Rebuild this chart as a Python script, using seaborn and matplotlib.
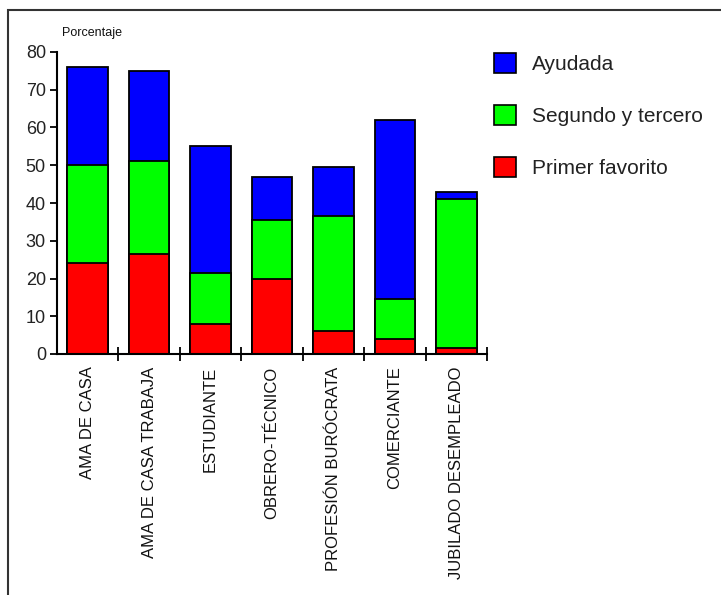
import matplotlib
matplotlib.use("Agg")
import matplotlib.pyplot as plt
from matplotlib.patches import Rectangle, Patch
import seaborn as sns
import pandas as pd
import numpy as np

categories = ["AMA DE CASA", "AMA DE CASA TRABAJA", "ESTUDIANTE", "OBRERO-TÉCNICO",
              "PROFESIÓN BURÓCRATA", "COMERCIANTE", "JUBILADO DESEMPLEADO"]
primer = [24, 26.5, 8, 20, 6, 4, 1.5]
segundo = [26, 24.5, 13.5, 15.5, 30.5, 10.5, 39.5]
ayudada = [26, 24, 33.5, 11.5, 13, 47.5, 2]
series_names = ["Ayudada", "Segundo y tercero", "Primer favorito"]
colors = {"Ayudada": "#0000FF", "Segundo y tercero": "#00FF00", "Primer favorito": "#FF0000"}
y_ticks = [0, 10, 20, 30, 40, 50, 60, 70, 80]

sns.set_theme(style="white")
plt.rcParams["font.family"] = ["Liberation Sans", "DejaVu Sans"]

df = pd.DataFrame({"cat": categories, "primer": primer, "segundo": segundo, "ayudada": ayudada})
df["top_primer"] = df["primer"]
df["top_segundo"] = df["primer"] + df["segundo"]
df["top_ayudada"] = df["top_segundo"] + df["ayudada"]

fig = plt.figure(figsize=(7.21, 5.95), dpi=100)
ax = fig.add_axes([57 / 721, 1 - 354 / 595, 430 / 721, 302 / 595])

# stacked bars: draw cumulative totals from the top layer down
for col, name in [("top_ayudada", "Ayudada"), ("top_segundo", "Segundo y tercero"),
                  ("top_primer", "Primer favorito")]:
    sns.barplot(data=df, x="cat", y=col, color=colors[name], saturation=1,
                width=0.66, edgecolor="black", linewidth=1.3, ax=ax)

ax.set_xlim(-0.5, 6.5)
ax.set_ylim(0, 80)
ax.set_yticks(y_ticks)
ax.set_yticklabels([str(v) for v in y_ticks], fontsize=13, color="#222222")
ax.set_xticks(range(len(categories)))
ax.set_xticklabels(categories, rotation=90, fontsize=12, color="#111111", va="top")
ax.tick_params(axis="x", which="major", length=0, pad=9)
ax.set_xticks(np.arange(0.5, 7.0, 1.0), minor=True)
ax.tick_params(axis="x", which="minor", bottom=True, direction="inout", length=10,
               width=1.3, color="black")
ax.tick_params(axis="y", direction="out", length=5, width=1.3, color="black", pad=3, left=True)
ax.set_xlabel("")
ax.set_ylabel("")
for side in ["top", "right"]:
    ax.spines[side].set_visible(False)
for side in ["left", "bottom"]:
    ax.spines[side].set_visible(True)
    ax.spines[side].set_color("black")
    ax.spines[side].set_linewidth(1.5)
ax.grid(False)

fig.text(62 / 721, 1 - 33 / 595, "Porcentaje", fontsize=9, color="#111111", va="center", ha="left")

handles = [Patch(facecolor=colors[n], edgecolor="black", linewidth=1.2) for n in series_names]
leg = fig.legend(handles, series_names, loc="upper left", bbox_to_anchor=(486 / 721, 1 - 45 / 595),
                 frameon=False, fontsize=15, handlelength=1.05, handleheight=1.05,
                 labelspacing=1.5, handletextpad=0.75, borderaxespad=0)
for t in leg.get_texts():
    t.set_color("#222222")

fig.patches.append(Rectangle((8 / 721, -0.1), 1.2, 1.083, transform=fig.transFigure,
                             fill=False, edgecolor="#333333", linewidth=1.5))

fig.savefig("out.png", dpi=100)
